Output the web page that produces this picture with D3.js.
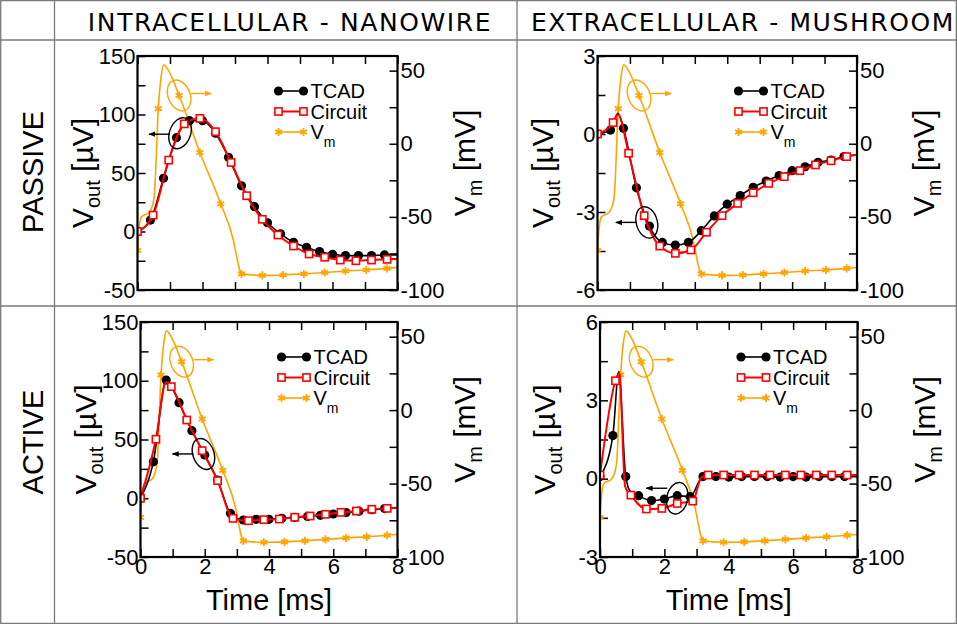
<!DOCTYPE html>
<html><head><meta charset="utf-8">
<script src="https://cdnjs.cloudflare.com/ajax/libs/d3/7.8.5/d3.min.js"></script>
<style>body{margin:0;background:#fff}svg{display:block}</style>
</head><body><svg id="c" width="957" height="624"></svg>
<script>
// ---------------- DATA ----------------
const columnTitles = ["INTRACELLULAR - NANOWIRE", "EXTRACELLULAR - MUSHROOM"];
const rowTitles = ["PASSIVE", "ACTIVE"];
const legendLabels = ["TCAD", "Circuit", "V"];
const xTitle = "Time [ms]";

const xTicks = [0,1,2,3,4,5,6,7,8];
const xTickLabels = [0,2,4,6,8];
const vmTicks = [-100,-75,-50,-25,0,25,50];
const vmTickLabels = [-100,-50,0,50];
const intraTicks = [-50,-25,0,25,50,75,100,125,150];
const intraTickLabels = [-50,0,50,100,150];
const extraPTicks = [-6,-4.5,-3,-1.5,0,1.5,3];
const extraPTickLabels = [-6,-3,0,3];
const extraATicks = [-3,-1.5,0,1.5,3,4.5,6];
const extraATickLabels = [-3,0,3,6];

// sample times of the markers
const tcadT = [0,0.4,0.8,1.2,1.6,2.0,2.4,2.8,3.2,3.6,4.0,4.4,4.8,5.2,5.6,6.0,6.4,6.8,7.2,7.6];
const circT = [0,0.48,0.96,1.44,1.92,2.4,2.88,3.36,3.84,4.32,4.8,5.28,5.76,6.24,6.72,7.2,7.68];

// membrane potential Vm [mV] (same in all panels)
const vmMarkT = [0,0.64,1.28,1.92,2.56,3.2,3.84,4.48,5.12,5.76,6.4,7.04,7.68];
const vmMarkV = [-73,24,33,-6,-41,-89,-90,-89.7,-89,-88,-87,-86.3,-85.2];
const vmKnotT = [0.04,0.12,0.35,0.45,0.52,0.74,0.81,0.93,2.95,3.06,3.14,8];
const vmKnotV = [-60,-50,-47,-43,-35,48,54,51,-66,-78,-86,-84.6];

// Panel 1: intracellular, passive  [uV]
const p1TcadV = [0,9.8,45.5,80.2,94.7,94.7,84,63.4,39,21.2,7.5,-2,-9.2,-13.5,-17.2,-19.5,-20.6,-20.6,-20.6,-20];
const p1TcadXT = [8], p1TcadXV = [-20];
const p1CircV = [0,14,61,92,96.7,85.3,59,30.6,10.4,-3,-12.4,-19.2,-22,-24.4,-25,-24.4,-23.8];
const p1CircXT = [8], p1CircXV = [-23.5];

// Panel 2: extracellular, passive [uV]
const p2TcadV = [0,0.15,0.22,-2.07,-3.54,-4.17,-4.27,-4.17,-3.72,-3.15,-2.7,-2.37,-2.05,-1.81,-1.6,-1.41,-1.26,-1.09,-1.0,-0.87];
const p2TcadXT = [0.63,8], p2TcadXV = [0.8,-0.8];
const p2CircV = [0,0.44,-0.74,-3.14,-4.31,-4.59,-4.46,-3.78,-3.14,-2.67,-2.26,-1.9,-1.64,-1.41,-1.19,-1.03,-0.87];
const p2CircXT = [0.63,8], p2CircXV = [0.75,-0.8];

// Panel 3: intracellular, active [uV]
const p3TcadV = [0,31,100.6,81.3,57.5,36.8,15.5,-12.8,-18.5,-17.9,-17.9,-17,-16.3,-15.5,-14.5,-13.4,-12.2,-11,-9.8,-8.8];
const p3TcadXT = [8], p3TcadXV = [-8.2];
const p3CircV = [0,50.2,95,66.6,40.5,15,-17.1,-19.1,-18.2,-17.7,-16.2,-15.1,-13.7,-12,-10.9,-9.4,-8.6];
const p3CircXT = [0.8,8], p3CircXV = [99,-8];

// Panel 4: extracellular, active [uV]
const p4TcadV = [0.08,1.65,0.08,-0.65,-0.84,-0.78,-0.65,-0.69,0.08,0.08,0.06,0.08,0.08,0.08,0.06,0.08,0.06,0.08,0.08,0.08];
const p4TcadXT = [0.58,0.95,8], p4TcadXV = [4.1,-0.5,0.08];
const p4CircV = [0.14,3.75,-0.63,-1.16,-1.14,-0.95,-0.86,0.14,0.14,0.14,0.14,0.14,0.14,0.14,0.14,0.14,0.14];
const p4CircXT = [0.6,0.78,3.15,8], p4CircXV = [4.07,-0.3,0.05,0.14];

// annotation anchors (data units)
const annoVm = [1.28, 33];
const annoOut = [[1.31,84],[1.52,-3.4],[1.96,37.7],[2.4,-0.75]];

// ---------------- LAYOUT ----------------
const FONT = "'Liberation Sans', Arial, sans-serif";
const ORANGE = "#FFA500", RED = "#FF0000";
const svg = d3.select("#c");

const defs = svg.append("defs");
[["ahB","#000"],["ahO",ORANGE]].forEach(([id,c])=>{
  defs.append("marker").attr("id",id).attr("viewBox","0 0 10 10").attr("refX",9).attr("refY",5)
    .attr("markerWidth",5).attr("markerHeight",5).attr("orient","auto")
    .append("path").attr("d","M0,1 L10,5 L0,9 Z").attr("fill",c);
});

// table grid
const grid = svg.append("g").attr("stroke","#7a7a7a").attr("stroke-width",1.3);
[[0.7,0,0.7,624],[54.5,0,54.5,624],[517,0,517,624],[956.3,0,956.3,624],
 [0,0.7,957,0.7],[0,40,957,40],[0,306,957,306],[0,623.3,957,623.3]].forEach(l=>{
  grid.append("line").attr("x1",l[0]).attr("y1",l[1]).attr("x2",l[2]).attr("y2",l[3]);
});

// headers
const colCenters = [290, 743];
columnTitles.forEach((t,i)=>{
  svg.append("text").attr("x",colCenters[i]).attr("y",22).attr("dy","0.36em")
    .attr("text-anchor","middle").attr("font-family","'DejaVu Sans', sans-serif")
    .attr("font-size",25).attr("letter-spacing",1.6).text(t);
});
const rowCenters = [172, 442];
rowTitles.forEach((t,i)=>{
  svg.append("text").attr("transform",`translate(33,${rowCenters[i]}) rotate(-90)`)
    .attr("dy","0.36em").attr("text-anchor","middle").attr("font-family",FONT)
    .attr("font-size",29).text(t);
});

const panels = [
  {rect:[137.5,56,397.5,290], yDom:[-50,150], yT:intraTicks, yL:intraTickLabels,
   tcad:p1TcadV, tx:p1TcadXT, tv:p1TcadXV, circ:p1CircV, cx:p1CircXT, cv:p1CircXV, bottom:false, rotB:20, arrowDy:1},
  {rect:[597.5,56,857,290], yDom:[-6,3], yT:extraPTicks, yL:extraPTickLabels,
   tcad:p2TcadV, tx:p2TcadXT, tv:p2TcadXV, circ:p2CircV, cx:p2CircXT, cv:p2CircXV, bottom:false, rotB:-15, arrowDy:0},
  {rect:[140.5,322,397.5,557], yDom:[-50,150], yT:intraTicks, yL:intraTickLabels,
   tcad:p3TcadV, tx:p3TcadXT, tv:p3TcadXV, circ:p3CircV, cx:p3CircXT, cv:p3CircXV, bottom:true, rotB:-20, arrowDy:0},
  {rect:[600,322,857.5,557], yDom:[-3,6], yT:extraATicks, yL:extraATickLabels,
   tcad:p4TcadV, tx:p4TcadXT, tv:p4TcadXV, circ:p4CircV, cx:p4CircXT, cv:p4CircXV, bottom:true, rotB:12, arrowDy:-10},
];

function merged(t1,v1,t2,v2){
  const a = t1.map((t,i)=>[t,v1[i]]).concat(t2.map((t,i)=>[t,v2[i]]));
  return a.sort((p,q)=>p[0]-q[0]);
}

panels.forEach((P,pi)=>{
  const [x0,y0,x1,y1] = P.rect;
  const x = d3.scaleLinear().domain([0,8]).range([x0,x1]);
  const y = d3.scaleLinear().domain(P.yDom).range([y1,y0]);
  const yR = d3.scaleLinear().domain([-100,60]).range([y1,y0]);
  const g = svg.append("g");
  const clipId = "clip"+pi;
  defs.append("clipPath").attr("id",clipId).append("rect")
    .attr("x",x0).attr("y",y0).attr("width",x1-x0).attr("height",y1-y0);

  const styleAxis = sel => {
    sel.select(".domain").remove();
    sel.selectAll(".tick line").attr("stroke","#000").attr("stroke-width",1.5);
    sel.selectAll("text").attr("font-family",FONT).attr("font-size",22).attr("fill","#000");
  };
  const fmt = labels => d => labels.includes(d) ? String(d) : "";

  g.append("g").attr("transform",`translate(${x0},0)`)
    .call(d3.axisLeft(y).tickValues(P.yT).tickSize(-8).tickPadding(2).tickFormat(fmt(P.yL))).call(styleAxis);
  g.append("g").attr("transform",`translate(${x1},0)`)
    .call(d3.axisRight(yR).tickValues(vmTicks).tickSize(-8).tickPadding(3).tickFormat(fmt(vmTickLabels))).call(styleAxis);
  g.append("g").attr("transform",`translate(0,${y1})`)
    .call(d3.axisBottom(x).tickValues(xTicks).tickSize(-8).tickPadding(1).tickFormat(P.bottom ? fmt(xTickLabels) : ()=>"")).call(styleAxis);
  g.append("g").attr("transform",`translate(0,${y0})`)
    .call(d3.axisTop(x).tickValues(xTicks).tickSize(-8).tickFormat(()=>"")).call(styleAxis);

  // data
  const dg = g.append("g").attr("clip-path",`url(#${clipId})`);
  const lineL = d3.line().x(d=>x(d[0])).y(d=>y(d[1])).curve(d3.curveMonotoneX);
  const lineR = d3.line().x(d=>x(d[0])).y(d=>yR(d[1])).curve(d3.curveMonotoneX);

  // Vm
  dg.append("path").datum(merged(vmMarkT,vmMarkV,vmKnotT,vmKnotV)).attr("d",lineR)
    .attr("fill","none").attr("stroke",ORANGE).attr("stroke-width",1.6);
  const star = d3.symbol(d3.symbolAsterisk, 45)();
  dg.selectAll(".vm").data(vmMarkT.map((t,i)=>[t,vmMarkV[i]])).join("path")
    .attr("d",star).attr("transform",d=>`translate(${x(d[0])},${yR(d[1])})`)
    .attr("fill","none").attr("stroke",ORANGE).attr("stroke-width",1.8);

  // TCAD
  dg.append("path").datum(merged(tcadT,P.tcad,P.tx,P.tv)).attr("d",lineL)
    .attr("fill","none").attr("stroke","#000").attr("stroke-width",1.6);
  dg.selectAll(".tc").data(tcadT.map((t,i)=>[t,P.tcad[i]])).join("circle")
    .attr("cx",d=>x(d[0])).attr("cy",d=>y(d[1])).attr("r",4.6).attr("fill","#000");

  // Circuit
  dg.append("path").datum(merged(circT,P.circ,P.cx,P.cv)).attr("d",lineL)
    .attr("fill","none").attr("stroke",RED).attr("stroke-width",2);
  dg.selectAll(".ci").data(circT.map((t,i)=>[t,P.circ[i]])).join("rect")
    .attr("x",d=>x(d[0])-3.6).attr("y",d=>y(d[1])-3.6).attr("width",7.2).attr("height",7.2)
    .attr("fill","#fff").attr("stroke",RED).attr("stroke-width",1.6);

  // frame
  g.append("rect").attr("x",x0).attr("y",y0).attr("width",x1-x0).attr("height",y1-y0)
    .attr("fill","none").attr("stroke","#000").attr("stroke-width",2.2);

  // annotations
  const ox = x(annoVm[0]), oy = yR(annoVm[1]);
  g.append("ellipse").attr("transform",`translate(${ox},${oy}) rotate(-22)`)
    .attr("rx",11).attr("ry",16).attr("fill","none").attr("stroke",ORANGE).attr("stroke-width",1.4);
  g.append("line").attr("x1",ox+12).attr("y1",oy-2).attr("x2",ox+32).attr("y2",oy-2)
    .attr("stroke",ORANGE).attr("stroke-width",1.4).attr("marker-end","url(#ahO)");
  const bx = x(annoOut[pi][0]), by = y(annoOut[pi][1]);
  g.append("ellipse").attr("transform",`translate(${bx},${by}) rotate(${P.rotB})`)
    .attr("rx",10.5).attr("ry",16).attr("fill","none").attr("stroke","#000").attr("stroke-width",1.4);
  g.append("line").attr("x1",bx-10).attr("y1",by+P.arrowDy).attr("x2",bx-31).attr("y2",by+P.arrowDy)
    .attr("stroke","#000").attr("stroke-width",1.4).attr("marker-end","url(#ahB)");

  // legend
  const lx = x0+141, ly = y0+35, step = 20.5;
  const lg = g.append("g").attr("font-family",FONT).attr("font-size",20);
  const lc = ["#000",RED,ORANGE];
  legendLabels.forEach((lab,i)=>{
    const yy = ly+i*step;
    lg.append("line").attr("x1",lx).attr("x2",lx+25).attr("y1",yy).attr("y2",yy)
      .attr("stroke",lc[i]).attr("stroke-width",i===1?2:1.6);
    [lx,lx+25].forEach(px=>{
      if(i===0) lg.append("circle").attr("cx",px).attr("cy",yy).attr("r",4.6).attr("fill","#000");
      else if(i===1) lg.append("rect").attr("x",px-3.6).attr("y",yy-3.6).attr("width",7.2).attr("height",7.2)
        .attr("fill","#fff").attr("stroke",RED).attr("stroke-width",1.6);
      else lg.append("path").attr("d",star).attr("transform",`translate(${px},${yy})`)
        .attr("fill","none").attr("stroke",ORANGE).attr("stroke-width",1.8);
    });
    const tx = lg.append("text").attr("x",lx+32).attr("y",yy).attr("dy","0.36em").text(lab);
    if(i===2) tx.append("tspan").attr("dy",8).attr("font-size",14).text("m");
  });

  // axis titles
  const cy = (y0+y1)/2;
  const lt = svg.append("text").attr("transform",`translate(${x0-45},${cy}) rotate(-90)`)
    .attr("text-anchor","middle").attr("font-family",FONT).attr("font-size",30);
  lt.append("tspan").text("V");
  lt.append("tspan").attr("dy",7).attr("font-size",20).text("out");
  lt.append("tspan").attr("dy",-7).text(" [\u00b5V]");
  const rt = svg.append("text").attr("transform",`translate(${x1+77},${cy-10}) rotate(-90)`)
    .attr("text-anchor","middle").attr("font-family",FONT).attr("font-size",30);
  rt.append("tspan").text("V");
  rt.append("tspan").attr("dy",7).attr("font-size",20).text("m");
  rt.append("tspan").attr("dy",-7).text(" [mV]");
  if(P.bottom){
    svg.append("text").attr("x",(x0+x1)/2).attr("y",610).attr("text-anchor","middle")
      .attr("font-family",FONT).attr("font-size",29).text(xTitle);
  }
});
</script></body></html>
